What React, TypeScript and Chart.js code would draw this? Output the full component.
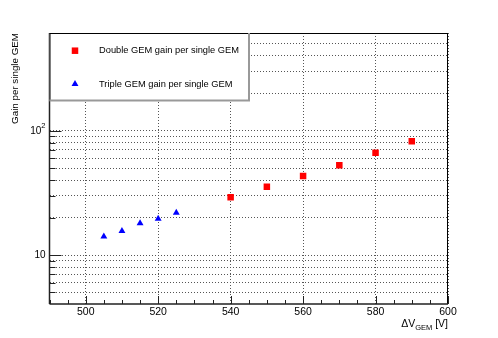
import React, { useEffect, useRef } from "react";
import { Chart, registerables } from "chart.js";

Chart.register(...registerables);

const doubleVoltages = [540, 550, 560, 570, 580, 590];
const doubleGain = [29.1, 35.4, 43.2, 52.7, 66.2, 82.2];
const tripleVoltages = [505, 510, 515, 520, 525];
const tripleGain = [14.1, 15.6, 18.0, 19.6, 21.9];

const seriesLabels = ["Double GEM gain per single GEM", "Triple GEM gain per single GEM"];
const xMajorTicks = [500, 520, 540, 560, 580, 600];
const xMinorTicks = [490, 495, 505, 510, 515, 525, 530, 535, 545, 550, 555, 565, 570, 575, 585, 590, 595];
const yMajorTicks = [10, 100];
const yMinorTicks = [5, 6, 7, 8, 9, 20, 30, 40, 50, 60, 70, 80, 90, 200, 300, 400, 500, 600];
const yTitle = "Gain per single GEM";
const X_MIN = 490;
const X_MAX = 600;
const Y_MIN = 4.04;
const Y_MAX = 608;

const FONT = "'Liberation Sans', Arial, Helvetica, sans-serif";

function drawMarker(ctx: CanvasRenderingContext2D, style: string, x: number, y: number, r: number, color: string) {
  ctx.fillStyle = color;
  ctx.beginPath();
  if (style === "rect") {
    const s = Math.SQRT1_2 * r;
    ctx.rect(x - s, y - s, 2 * s, 2 * s);
  } else {
    ctx.moveTo(x, y - r);
    ctx.lineTo(x + r * Math.sin(Math.PI / 3), y + r * 0.5);
    ctx.lineTo(x - r * Math.sin(Math.PI / 3), y + r * 0.5);
    ctx.closePath();
  }
  ctx.fill();
}

const rootPlugin = {
  id: "rootStyle",
  afterDraw(chart: any) {
    const { ctx, chartArea: a, scales } = chart;
    const xs = scales.x;
    const ys = scales.y;
    ctx.save();
    // frame
    ctx.strokeStyle = "#000";
    ctx.lineWidth = 1;
    ctx.beginPath();
    ctx.moveTo(a.left, a.top + 0.5);
    ctx.lineTo(a.right, a.top + 0.5);
    ctx.moveTo(a.right - 0.5, a.top);
    ctx.lineTo(a.right - 0.5, a.bottom);
    ctx.stroke();
    // axes
    ctx.lineWidth = 1.5;
    ctx.strokeStyle = "#222";
    ctx.beginPath();
    ctx.moveTo(a.left, a.bottom);
    ctx.lineTo(a.right, a.bottom);
    ctx.moveTo(a.left, a.top);
    ctx.lineTo(a.left, a.bottom);
    ctx.stroke();
    // ticks
    ctx.lineWidth = 1;
    ctx.beginPath();
    xMajorTicks.forEach((v) => {
      const px = Math.round(xs.getPixelForValue(v)) + 0.5;
      ctx.moveTo(px, a.bottom);
      ctx.lineTo(px, a.bottom - 8);
    });
    xMinorTicks.forEach((v) => {
      const px = Math.round(xs.getPixelForValue(v)) + 0.5;
      ctx.moveTo(px, a.bottom);
      ctx.lineTo(px, a.bottom - 4);
    });
    yMajorTicks.forEach((v) => {
      const py = Math.round(ys.getPixelForValue(v)) + 0.5;
      ctx.moveTo(a.left, py);
      ctx.lineTo(a.left + 12, py);
    });
    yMinorTicks.forEach((v) => {
      const py = Math.round(ys.getPixelForValue(v)) + 0.5;
      ctx.moveTo(a.left, py);
      ctx.lineTo(a.left + 6, py);
    });
    ctx.stroke();

    // y labels
    ctx.fillStyle = "#000";
    ctx.textBaseline = "middle";
    ctx.textAlign = "right";
    yMajorTicks.forEach((v) => {
      const py = ys.getPixelForValue(v);
      const exp = Math.round(Math.log10(v));
      const rightX = a.left - 4;
      if (exp === 1) {
        ctx.font = `10px ${FONT}`;
        ctx.fillText("10", rightX, py);
      } else {
        ctx.font = `7.5px ${FONT}`;
        const ew = ctx.measureText(String(exp)).width;
        ctx.fillText(String(exp), rightX, py - 5);
        ctx.font = `10px ${FONT}`;
        ctx.fillText("10", rightX - ew, py + 1);
      }
    });

    // y title
    ctx.save();
    ctx.translate(20.5, a.top);
    ctx.rotate(-Math.PI / 2);
    ctx.font = `9.8px ${FONT}`;
    ctx.textAlign = "right";
    ctx.textBaseline = "bottom";
    ctx.fillText(yTitle, 0, 0);
    ctx.restore();

    // x title: ΔV_GEM [V]
    ctx.textAlign = "left";
    ctx.textBaseline = "alphabetic";
    const big = `10.5px ${FONT}`;
    const small = `7.5px ${FONT}`;
    ctx.font = big;
    const w1 = ctx.measureText("\u0394V").width;
    const w3 = ctx.measureText(" [V]").width;
    ctx.font = small;
    const w2 = ctx.measureText("GEM").width;
    const total = w1 + w2 + w3;
    let tx = a.right - total;
    const base = 327;
    ctx.font = big;
    ctx.fillText("\u0394V", tx, base);
    tx += w1;
    ctx.font = small;
    ctx.fillText("GEM", tx, base + 3);
    tx += w2;
    ctx.font = big;
    ctx.fillText(" [V]", tx, base);

    // legend
    const lx = a.left;
    const ly = a.top;
    const lw = 249 - a.left;
    const lh = 100.5 - a.top;
    ctx.fillStyle = "#fff";
    ctx.fillRect(lx, ly, lw, lh);
    ctx.strokeStyle = "#000";
    ctx.lineWidth = 1;
    ctx.beginPath();
    ctx.moveTo(lx, ly + 0.5);
    ctx.lineTo(lx + lw, ly + 0.5);
    ctx.moveTo(lx + 0.5, ly);
    ctx.lineTo(lx + 0.5, ly + lh);
    ctx.stroke();
    ctx.strokeStyle = "#999";
    ctx.lineWidth = 2;
    ctx.beginPath();
    ctx.moveTo(lx + lw, ly);
    ctx.lineTo(lx + lw, ly + lh + 1);
    ctx.moveTo(lx, ly + lh);
    ctx.lineTo(lx + lw + 1, ly + lh);
    ctx.stroke();

    const rows = [50.7, 84];
    chart.data.datasets.forEach((ds: any, i: number) => {
      drawMarker(ctx, ds.pointStyle, 75, rows[i], ds.pointRadius, ds.backgroundColor);
      ctx.fillStyle = "#000";
      ctx.font = `9.3px ${FONT}`;
      ctx.textAlign = "left";
      ctx.textBaseline = "middle";
      ctx.fillText(ds.label, 99, rows[i]);
    });
    ctx.restore();
  },
};

export default function App() {
  const ref = useRef<HTMLCanvasElement | null>(null);
  useEffect(() => {
    document.body.style.margin = "0";
    const canvas = ref.current;
    if (!canvas) return;
    const gridColor = "#555";
    const chart = new Chart(canvas, {
      type: "scatter",
      data: {
        datasets: [
          {
            label: seriesLabels[0],
            data: doubleVoltages.map((v, i) => ({ x: v, y: doubleGain[i] })),
            pointStyle: "rect",
            pointRadius: 4.6,
            backgroundColor: "#ff0000",
            borderWidth: 0,
          },
          {
            label: seriesLabels[1],
            data: tripleVoltages.map((v, i) => ({ x: v, y: tripleGain[i] })),
            pointStyle: "triangle",
            pointRadius: 4,
            backgroundColor: "#0000ff",
            borderWidth: 0,
          },
        ],
      } as any,
      options: {
        responsive: false,
        animation: false,
        layout: { padding: { left: 0, right: 50, top: 33, bottom: 0 } },
        plugins: { legend: { display: false }, tooltip: { enabled: false } },
        scales: {
          x: {
            type: "linear",
            min: X_MIN,
            max: X_MAX,
            afterBuildTicks: (s: any) => {
              s.ticks = xMajorTicks.map((v) => ({ value: v }));
            },
            afterFit: (s: any) => {
              s.height = 34;
            },
            grid: { color: gridColor, lineWidth: 1, drawTicks: false },
            border: { display: false, dash: [1, 2] },
            ticks: {
              color: "#000",
              font: { family: FONT, size: 10.5 },
              padding: 2,
              maxRotation: 0,
              callback: (v: any) => String(v),
            },
          },
          y: {
            type: "logarithmic",
            min: Y_MIN,
            max: Y_MAX,
            afterBuildTicks: (s: any) => {
              s.ticks = [...yMinorTicks, ...yMajorTicks].sort((p, q) => p - q).map((v) => ({ value: v }));
            },
            afterFit: (s: any) => {
              s.width = 49.5;
            },
            grid: { color: gridColor, lineWidth: 1, drawTicks: false },
            border: { display: false, dash: [1, 2] },
            ticks: { display: false },
          },
        },
      } as any,
      plugins: [rootPlugin],
    });
    return () => chart.destroy();
  }, []);
  return (
    <div style={{ position: "absolute", left: 0, top: 0, width: 498, height: 338, background: "#fff" }}>
      <canvas ref={ref} width={498} height={338} />
    </div>
  );
}
